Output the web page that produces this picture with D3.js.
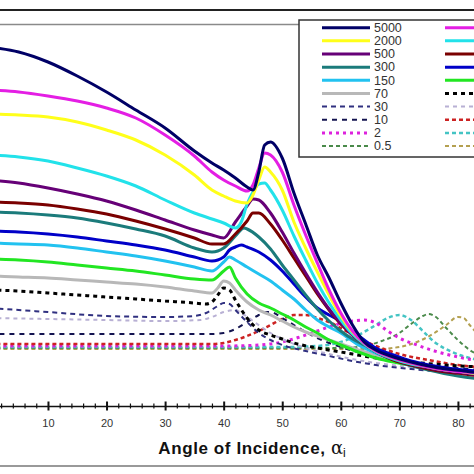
<!DOCTYPE html>
<html><head><meta charset="utf-8">
<script src="https://cdn.jsdelivr.net/npm/d3@7/dist/d3.min.js"></script>
<style>body{margin:0;background:#fff}svg{display:block}</style>
</head><body>
<svg id="c" width="474" height="474"></svg>
<script>
// ---- data: [angle of incidence (deg), intensity (arb. units)] ----
const labels = ["5000","3000","2000","1000","500","400","300","200","150","100","70","50","30","20","10","5","2","1","0.5","0.1"];
const colors = ["#000066","#e41ee4","#ffff1a","#22e2ea","#660077","#7a0000","#1b7b7b","#0000c8","#22c2f0","#22e622","#b8b8b8","#000000","#303080","#b8b0d4","#141450","#cc2222","#dd22dd","#44c4c4","#4a8a4a","#b4a050"];
const dashes = [null,null,null,null,null,null,null,null,null,null,null,"4,4","5,4","4,4","5,5","4,3","3,4","4,3","4,3","4,3"];
const widths = [3,3,3,3,3,3,3,3,3,3,3,3,2,2,2,2.5,3,2.5,2,2];
const tickLabels = [10,20,30,40,50,60,70,80];
const axisTitle = "Angle of Incidence, ";

const s5000 = [[0,3.58],[5,3.53],[10,3.43],[15,3.29],[20,3.13],[25,2.95],[30,2.77],[35,2.54],[38,2.42],[40,2.35],[42,2.27],[44,2.18],[45,2.15],[46,2.33],[47,2.60],[48,2.63],[50,2.47],[52,2.12],[54,1.81],[56,1.50],[58,1.27],[60,1.02],[62,0.80],[64,0.63],[66,0.55],[69,0.48],[72,0.43],[75,0.39],[78,0.36],[81,0.34],[84,0.32],[90,0.30]];
const s3000 = [[0,3.15],[5,3.13],[10,3.09],[15,3.04],[20,2.97],[25,2.87],[30,2.70],[35,2.49],[38,2.33],[40,2.25],[42,2.19],[44,2.14],[45,2.20],[46,2.37],[47,2.52],[48,2.50],[50,2.33],[52,2.00],[54,1.70],[56,1.42],[58,1.15],[60,0.92],[62,0.74],[64,0.62],[66,0.54],[69,0.47],[72,0.42],[75,0.38],[78,0.35],[81,0.33],[84,0.32],[90,0.30]];
const s2000 = [[0,2.91],[5,2.90],[10,2.88],[15,2.83],[20,2.75],[25,2.65],[30,2.50],[35,2.30],[38,2.15],[40,2.09],[42,2.04],[44,2.02],[45,2.10],[46,2.25],[47,2.38],[48,2.33],[50,2.15],[52,1.83],[54,1.57],[56,1.33],[58,1.10],[60,0.89],[62,0.73],[64,0.62],[66,0.54],[69,0.47],[72,0.42],[75,0.38],[78,0.35],[81,0.33],[84,0.31],[90,0.29]];
const s1000 = [[0,2.50],[5,2.48],[10,2.44],[15,2.37],[20,2.29],[25,2.19],[30,2.05],[35,1.92],[38,1.86],[40,1.82],[42,1.77],[43,1.83],[44,2.01],[45,2.13],[46,2.21],[47,2.22],[48,2.15],[50,1.95],[52,1.69],[54,1.45],[56,1.22],[58,1.02],[60,0.85],[62,0.71],[64,0.61],[66,0.53],[69,0.46],[72,0.41],[75,0.38],[78,0.35],[81,0.33],[84,0.31],[90,0.29]];
const s500 = [[0,2.25],[5,2.22],[10,2.17],[15,2.11],[20,2.04],[25,1.95],[30,1.85],[35,1.75],[38,1.70],[40,1.67],[42,1.83],[44,1.99],[45,2.06],[46,2.05],[48,1.92],[50,1.73],[52,1.52],[54,1.32],[56,1.13],[58,0.96],[60,0.82],[62,0.70],[64,0.61],[66,0.53],[69,0.46],[72,0.41],[75,0.37],[78,0.34],[81,0.32],[84,0.30],[90,0.28]];
const s400 = [[0,2.03],[5,2.02],[10,2.00],[15,1.96],[20,1.91],[25,1.84],[30,1.76],[35,1.67],[38,1.61],[40,1.61],[42,1.71],[44,1.84],[45,1.92],[46,1.92],[48,1.81],[50,1.65],[52,1.47],[54,1.29],[56,1.11],[58,0.95],[60,0.81],[62,0.70],[64,0.61],[66,0.53],[69,0.45],[72,0.40],[75,0.36],[78,0.33],[81,0.31],[84,0.29],[90,0.27]];
const s300 = [[0,1.93],[5,1.92],[10,1.90],[15,1.87],[20,1.82],[25,1.76],[30,1.69],[35,1.57],[38,1.53],[40,1.57],[42,1.69],[43.5,1.77],[44,1.76],[46,1.68],[48,1.56],[50,1.40],[52,1.25],[54,1.10],[56,0.96],[58,0.84],[60,0.74],[62,0.66],[64,0.60],[66,0.53],[70,0.43],[75,0.35],[80,0.29],[84,0.26],[90,0.24]];
const s200 = [[0,1.74],[5,1.73],[10,1.71],[15,1.68],[20,1.64],[25,1.60],[30,1.55],[35,1.48],[38,1.44],[40,1.48],[41,1.55],[42,1.58],[43,1.60],[44,1.58],[46,1.53],[48,1.45],[50,1.34],[52,1.21],[54,1.08],[56,0.97],[58,0.90],[60,0.84],[62,0.74],[64,0.65],[66,0.57],[69,0.50],[72,0.44],[75,0.40],[78,0.37],[81,0.35],[84,0.34],[90,0.32]];
const s150 = [[0,1.62],[5,1.61],[10,1.60],[15,1.57],[20,1.53],[25,1.49],[30,1.44],[35,1.38],[38,1.34],[40,1.43],[41,1.48],[42,1.45],[44,1.38],[46,1.31],[48,1.24],[50,1.15],[52,1.06],[54,0.95],[56,0.85],[58,0.78],[60,0.72],[63,0.60],[66,0.52],[69,0.46],[72,0.42],[75,0.38],[78,0.35],[81,0.33],[84,0.31],[90,0.29]];
const s100 = [[0,1.46],[5,1.45],[10,1.43],[15,1.40],[20,1.37],[25,1.34],[30,1.30],[35,1.26],[38,1.25],[40,1.34],[41,1.38],[42,1.27],[44,1.11],[46,1.02],[48,0.97],[50,0.91],[52,0.85],[54,0.78],[56,0.72],[58,0.65],[60,0.60],[63,0.53],[66,0.47],[69,0.43],[72,0.40],[75,0.38],[78,0.36],[81,0.34],[84,0.33],[90,0.31]];
const s70 = [[0,1.29],[5,1.28],[10,1.27],[15,1.25],[20,1.23],[25,1.21],[30,1.18],[35,1.14],[38,1.12],[39,1.17],[40,1.24],[41,1.22],[42,1.15],[44,1.03],[46,0.95],[48,0.90],[50,0.84],[52,0.78],[54,0.73],[56,0.69],[58,0.65],[60,0.61],[63,0.55],[66,0.50],[69,0.45],[72,0.41],[75,0.37],[78,0.35],[81,0.33],[84,0.32],[90,0.30]];
const s50 = [[0,1.15],[5,1.14],[10,1.12],[15,1.10],[20,1.08],[25,1.06],[30,1.04],[35,1.02],[37,1.01],[38,1.03],[39,1.10],[40,1.17],[41,1.15],[42,1.05],[44,0.87],[46,0.75],[48,0.70],[50,0.66],[52,0.62],[56,0.57],[60,0.53],[66,0.47],[72,0.43],[78,0.40],[84,0.38],[90,0.37]];
const s30 = [[0,0.97],[10,0.93],[20,0.89],[30,0.88],[35,0.89],[37,0.92],[39,0.99],[40,1.02],[41,1.01],[42,0.95],[44,0.83],[46,0.72],[48,0.65],[50,0.60],[54,0.54],[58,0.49],[62,0.44],[66,0.40],[72,0.36],[78,0.33],[84,0.31],[90,0.30]];
const s20 = [[0,0.87],[10,0.86],[20,0.85],[30,0.84],[36,0.85],[38,0.88],[40,0.93],[42,0.95],[43,0.92],[45,0.84],[48,0.72],[50,0.66],[54,0.57],[58,0.51],[62,0.46],[66,0.42],[72,0.38],[78,0.35],[84,0.33],[90,0.32]];
const s10 = [[0,0.71],[20,0.71],[38,0.71],[40,0.72],[42,0.76],[44,0.83],[46,0.90],[47,0.93],[48,0.93],[50,0.87],[52,0.80],[54,0.73],[56,0.67],[58,0.62],[60,0.58],[64,0.51],[68,0.46],[72,0.42],[78,0.38],[84,0.35],[90,0.33]];
const s5 = [[0,0.61],[20,0.61],[38,0.61],[40,0.62],[42,0.65],[44,0.69],[46,0.74],[48,0.80],[50,0.86],[52,0.90],[54,0.90],[56,0.87],[58,0.83],[60,0.77],[63,0.67],[66,0.59],[70,0.51],[75,0.45],[80,0.40],[85,0.37],[90,0.35]];
const s2 = [[0,0.59],[40,0.59],[46,0.60],[50,0.63],[53,0.68],[56,0.74],[59,0.80],[62,0.84],[64,0.85],[66,0.82],[68,0.74],[70,0.67],[73,0.60],[76,0.54],[80,0.48],[85,0.43],[90,0.40]];
const s1 = [[0,0.58],[50,0.58],[56,0.59],[60,0.63],[63,0.70],[66,0.80],[68,0.87],[70,0.90],[72,0.85],[74,0.74],[76,0.63],[79,0.53],[82,0.47],[86,0.43],[90,0.40]];
const s05 = [[0,0.57],[60,0.57],[64,0.59],[67,0.64],[70,0.72],[72,0.81],[74,0.89],[75,0.91],[76,0.89],[78,0.77],[80,0.65],[82,0.55],[85,0.47],[88,0.43],[90,0.41]];
const s01 = [[0,0.56],[66,0.56],[70,0.58],[73,0.63],[76,0.72],[78,0.80],[80,0.88],[81,0.87],[82,0.80],[84,0.67],[86,0.55],[88,0.47],[90,0.43]];
const seriesData = [s5000,s3000,s2000,s1000,s500,s400,s300,s200,s150,s100,s70,s50,s30,s20,s10,s5,s2,s1,s05,s01];

// ---- drawing ----
const svg = d3.select("#c");
const W = 474, H = 474;
svg.append("rect").attr("width", W).attr("height", H).attr("fill", "#fff");

const x = d3.scaleLinear().domain([0, 90]).range([-10.6, 516.5]);
const y = d3.scaleLinear().domain([0, 3.8]).range([405, 25]);

// frame lines
svg.append("line").attr("x1", 0).attr("x2", W).attr("y1", 10).attr("y2", 10).attr("stroke", "#222").attr("stroke-width", 2);
svg.append("line").attr("x1", 0).attr("x2", W).attr("y1", 24.5).attr("y2", 24.5).attr("stroke", "#8a8a8a").attr("stroke-width", 1.5);
svg.append("line").attr("x1", 0).attr("x2", W).attr("y1", 466).attr("y2", 466).attr("stroke", "#777").attr("stroke-width", 1.5);

// curves
const line = d3.line().x(d => x(d[0])).y(d => y(d[1])).curve(d3.curveMonotoneX);
const order = d3.range(seriesData.length).reverse();
svg.append("g").selectAll("path").data(order).join("path")
  .attr("d", i => line(seriesData[i]))
  .attr("fill", "none")
  .attr("stroke", i => colors[i])
  .attr("stroke-width", i => widths[i])
  .attr("stroke-dasharray", i => dashes[i])
  .attr("stroke-linejoin", "round");

// x axis
const ax = svg.append("g").attr("transform", "translate(0,406)")
  .call(d3.axisBottom(x).tickValues(d3.range(0, 91, 2)).tickSizeOuter(0)
    .tickFormat(d => tickLabels.includes(d) ? d : ""));
ax.select(".domain").attr("stroke", "#111").attr("stroke-width", 1.5);
ax.selectAll(".tick line")
  .attr("y1", d => d % 10 === 0 ? -4.5 : -2.5)
  .attr("y2", d => d % 10 === 0 ? 4.5 : 2.5)
  .attr("stroke", "#111").attr("stroke-width", d => d % 10 === 0 ? 2 : 1.2);
ax.selectAll(".tick text").attr("y", 21).attr("dy", 0)
  .attr("font-family", "Liberation Sans, Arial, sans-serif").attr("font-size", 11)
  .attr("fill", "#333");

// axis title
const t = svg.append("text").attr("x", 252).attr("y", 454).attr("text-anchor", "middle")
  .attr("font-family", "Liberation Sans, Arial, sans-serif").attr("fill", "#111");
t.append("tspan").attr("font-size", 17).attr("font-weight", "bold").attr("letter-spacing", 0.6).text(axisTitle);
t.append("tspan").attr("font-size", 18).attr("font-family", "DejaVu Serif, serif").text("\u03b1");
t.append("tspan").attr("font-size", 12).attr("dy", 3).text("i");

// legend (right column labels lie outside the visible picture, as in the reference)
const lg = svg.append("g");
lg.append("rect").attr("x", 299).attr("y", 20).attr("width", 200).attr("height", 137)
  .attr("fill", "#fff").attr("stroke", "#333").attr("stroke-width", 1.5);
const rowY = r => 27.7 + r * 13.15;
const items = lg.selectAll("g.it").data(d3.range(labels.length)).join("g")
  .attr("transform", i => `translate(${i % 2 === 0 ? 322 : 445},${rowY(Math.floor(i / 2))})`);
items.append("line").attr("x1", 0).attr("x2", 48).attr("y1", 0).attr("y2", 0)
  .attr("stroke", i => colors[i]).attr("stroke-width", i => widths[i])
  .attr("stroke-dasharray", i => dashes[i]);
items.filter(i => i % 2 === 0).append("text").attr("x", 52).attr("y", 4.3).text(i => labels[i])
  .attr("font-family", "Liberation Sans, Arial, sans-serif").attr("font-size", 12.5).attr("fill", "#333");
</script>
</body></html>
